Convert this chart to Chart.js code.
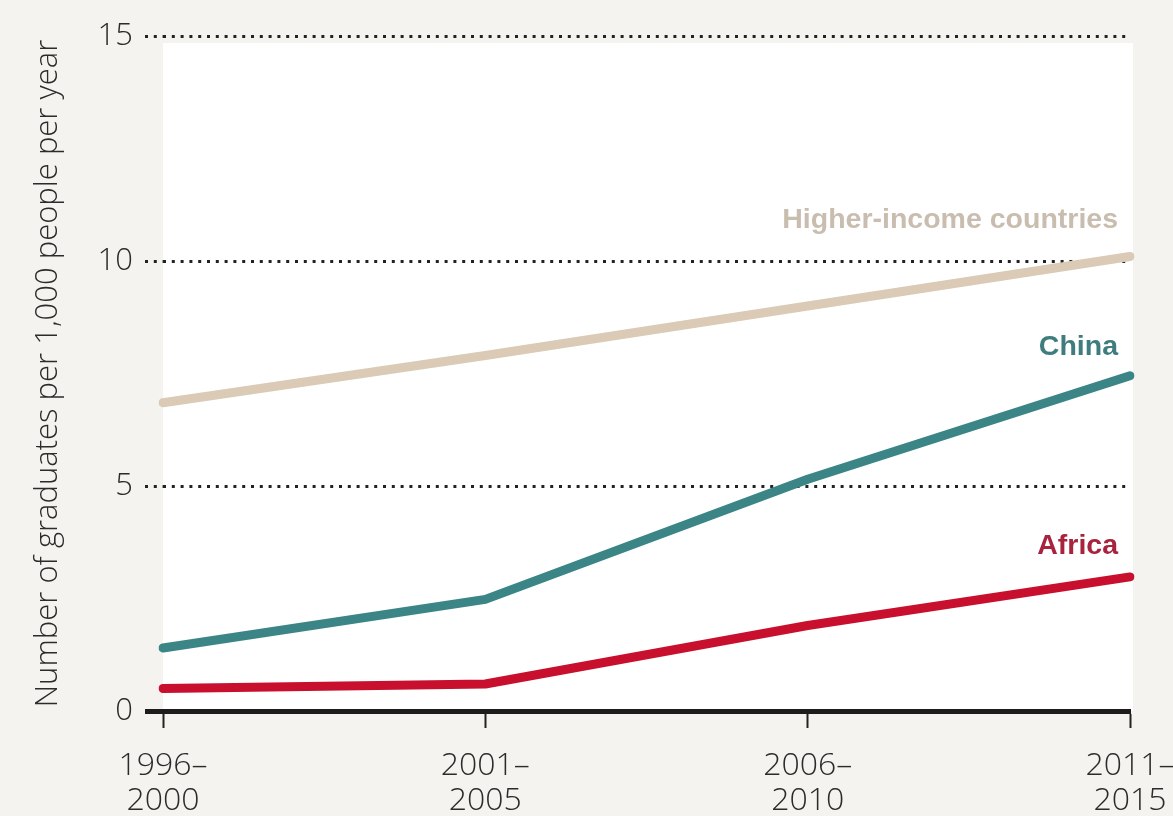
<!DOCTYPE html>
<html lang="en">
<head>
    <meta charset="UTF-8">
    <title>Graduates per 1,000 people</title>
    <script src="https://cdn.jsdelivr.net/npm/chart.js"></script>
    <style>
        html, body { margin: 0; padding: 0; background: #f4f3ef; }
        #wrap { width: 1173px; height: 816px; position: relative; }
    </style>
</head>
<body>
    <div id="wrap"><canvas id="grad-chart" width="1173" height="816"></canvas></div>

    <script>
        // data
        const periods = [['1996–', '2000'], ['2001–', '2005'], ['2006–', '2010'], ['2011–', '2015']];
        const higherIncome = [6.85, 7.9, 9.0, 10.1];
        const china = [1.4, 2.48, 5.15, 7.45];
        const africa = [0.5, 0.6, 1.9, 2.98];
        const yTicks = [0, 5, 10, 15];

        const seriesNames = ['Higher-income countries', 'China', 'Africa'];
        const lineColors = ['#dacab6', '#3b8587', '#c8102e'];
        const labelColors = ['#c9bdaf', '#3f7c7d', '#a8233d'];
        const labelLift = [36, 29, 31];

        const bodyFont = "'Open Sans', 'Liberation Sans', sans-serif";

        // white plot panel behind the lines
        const panelPlugin = {
            id: 'panel',
            beforeDraw(chart) {
                const { ctx, chartArea } = chart;
                ctx.save();
                ctx.fillStyle = '#ffffff';
                ctx.fillRect(chartArea.left, chartArea.top + 7, chartArea.right - chartArea.left + 3, chartArea.bottom - chartArea.top - 7);
                ctx.restore();
            }
        };

        // series names placed above each line's last point
        const endLabels = {
            id: 'endLabels',
            afterDatasetsDraw(chart) {
                const { ctx, chartArea } = chart;
                ctx.save();
                ctx.font = "bold 28.5px 'Liberation Sans', sans-serif";
                ctx.textAlign = 'right';
                ctx.textBaseline = 'middle';
                chart.data.datasets.forEach((ds, i) => {
                    const meta = chart.getDatasetMeta(i);
                    const last = meta.data[meta.data.length - 1];
                    ctx.fillStyle = labelColors[i];
                    ctx.fillText(ds.label, chartArea.right - 12, last.y - labelLift[i]);
                });
                ctx.restore();
            }
        };

        const isZero = c => c.tick && c.tick.value === 0;

        const ctx = document.getElementById('grad-chart').getContext('2d');
        new Chart(ctx, {
            type: 'line',
            data: {
                labels: periods,
                datasets: [higherIncome, china, africa].map((vals, i) => ({
                    label: seriesNames[i],
                    data: vals,
                    borderColor: lineColors[i],
                    borderWidth: 9,
                    borderCapStyle: 'round',
                    borderJoinStyle: 'round',
                    pointRadius: 0,
                    tension: 0,
                    fill: false
                }))
            },
            options: {
                responsive: false,
                animation: false,
                layout: { padding: { top: 36, right: 43, left: 0, bottom: 0 } },
                plugins: {
                    legend: { display: false },
                    tooltip: { enabled: false }
                },
                scales: {
                    x: {
                        offset: false,
                        afterFit(scale) {
                            scale.height = 105;
                            scale.paddingRight = 0;
                            scale.paddingLeft = 0;
                        },
                        border: { display: true, color: '#1c1c1c', width: 5, z: 1 },
                        grid: {
                            drawOnChartArea: false,
                            drawTicks: true,
                            tickLength: 17,
                            tickColor: '#222222',
                            tickWidth: 2
                        },
                        ticks: {
                            padding: 20,
                            maxRotation: 0,
                            color: '#2b2b2b',
                            font: { family: bodyFont, size: 32, weight: 300, lineHeight: 1.1 }
                        }
                    },
                    y: {
                        min: 0,
                        max: 15,
                        afterFit(scale) {
                            scale.width = 163;
                            scale.paddingTop = 0;
                            scale.paddingBottom = 0;
                        },
                        afterBuildTicks(scale) { scale.ticks = yTicks.map(v => ({ value: v })); },
                        border: { display: false, dash: [3, 5.8] },
                        grid: {
                            color: c => isZero(c) ? 'rgba(0,0,0,0)' : '#222222',
                            lineWidth: 3,
                            tickBorderDash: c => isZero(c) ? [] : [3, 5.8],
                            tickColor: c => isZero(c) ? '#1c1c1c' : '#222222',
                            tickWidth: c => isZero(c) ? 5 : 3,
                            tickLength: 18
                        },
                        ticks: {
                            padding: 12,
                            color: '#2b2b2b',
                            font: { family: bodyFont, size: 31, weight: 300 }
                        },
                        title: {
                            display: true,
                            text: 'Number of graduates per 1,000 people per year',
                            color: '#2b2b2b',
                            padding: { top: 30, bottom: 0 },
                            font: { family: bodyFont, size: 31, weight: 300 }
                        }
                    }
                }
            },
            plugins: [panelPlugin, endLabels]
        });
    </script>
</body>
</html>
